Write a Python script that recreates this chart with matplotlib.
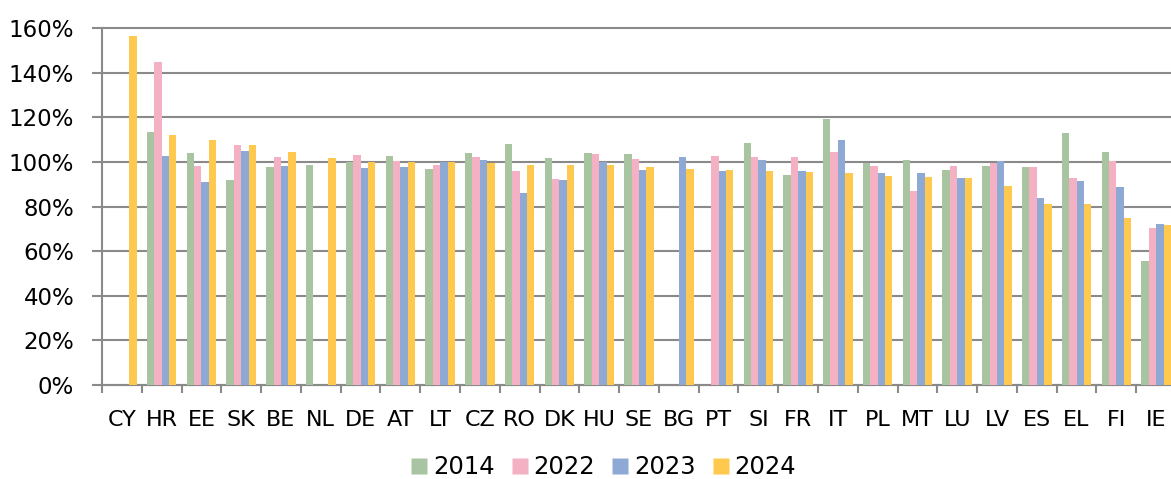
import numpy as np
import matplotlib
matplotlib.use("Agg")
import matplotlib.pyplot as plt
from matplotlib.lines import Line2D

categories = ["CY", "HR", "EE", "SK", "BE", "NL", "DE", "AT", "LT", "CZ", "RO", "DK", "HU", "SE",
              "BG", "PT", "SI", "FR", "IT", "PL", "MT", "LU", "LV", "ES", "EL", "FI", "IE"]
nan = np.nan
v2014 = [nan, 113.3, 103.9, 91.8, 97.8, 98.8, 100.0, 102.5, 97.0, 104.2, 108.1, 101.9, 104.2, 103.7,
         nan, nan, 108.7, 94.3, 119.3, 99.4, 101.0, 96.6, 98.2, 97.6, 113.1, 104.3, 55.5]
v2022 = [nan, 145.0, 98.4, 107.8, 102.3, nan, 103.3, 100.4, 98.7, 102.1, 96.0, 92.5, 103.7, 101.5,
         nan, 102.7, 102.1, 102.1, 104.3, 98.2, 87.2, 98.2, 99.4, 97.6, 92.7, 100.4, 70.6]
v2023 = [nan, 102.9, 91.2, 105.0, 98.4, nan, 97.2, 97.6, 99.9, 101.0, 86.0, 92.1, 99.9, 96.6,
         102.1, 96.0, 101.0, 96.0, 109.9, 94.9, 94.9, 92.7, 100.4, 83.9, 91.6, 88.8, 72.2]
v2024 = [156.7, 112.1, 110.0, 107.8, 104.4, 101.7, 100.0, 99.9, 99.9, 99.4, 98.7, 98.7, 98.7, 97.6,
         97.0, 96.6, 96.0, 95.4, 94.9, 93.7, 93.3, 92.7, 89.4, 81.0, 81.0, 74.9, 71.6]
series_names = ["2014", "2022", "2023", "2024"]
colors = ["#A9C4A0", "#F4B1C4", "#8FA9D5", "#FFC84F"]

W, H = 1171, 479
fig = plt.figure(figsize=(W / 100, H / 100), dpi=100)
ax = fig.add_axes([102 / W, (H - 385) / H, (1176 - 102) / W, (385 - 28.3) / H])

x = np.arange(len(categories))
bw = 0.186
for i, (vals, c) in enumerate(zip([v2014, v2022, v2023, v2024], colors)):
    ax.bar(x + (i - 1.5) * bw, vals, width=bw, color=c, edgecolor="none", zorder=3)

gray = "#8A8A8A"
ax.set_ylim(0, 160)
ax.set_xlim(-0.5, len(categories) - 0.5)
ax.set_yticks(np.arange(0, 161, 20))
ax.set_yticklabels([f"{v}%" for v in range(0, 161, 20)], fontsize=16.5)
ax.yaxis.grid(True, color=gray, linewidth=1.5, zorder=0)
ax.set_axisbelow(True)
for gl in ax.get_ygridlines():
    gl.set_clip_on(False)

ax.set_xticks(x)
ax.set_xticklabels(categories, fontsize=16)
ax.set_xticks(np.arange(-0.5, len(categories), 1), minor=True)
ax.tick_params(axis="x", which="major", length=0, pad=18)
ax.tick_params(axis="x", which="minor", length=6, width=1.5, color=gray)
ax.tick_params(axis="y", length=7, width=1.5, color=gray, pad=13)

for s in ["top", "right"]:
    ax.spines[s].set_visible(False)
for s in ["left", "bottom"]:
    ax.spines[s].set_color(gray)
    ax.spines[s].set_linewidth(1.5)

handles = [Line2D([], [], marker="s", linestyle="none", markersize=11.5, markerfacecolor=c,
                  markeredgecolor="none") for c in colors]
fig.legend(handles, series_names, loc="center", bbox_to_anchor=(0.5155, 0.025), ncol=4,
           frameon=False, fontsize=17.5, handlelength=0.65, handletextpad=0.25, columnspacing=0.7,
           borderpad=0)

fig.savefig("out.png", dpi=100)
